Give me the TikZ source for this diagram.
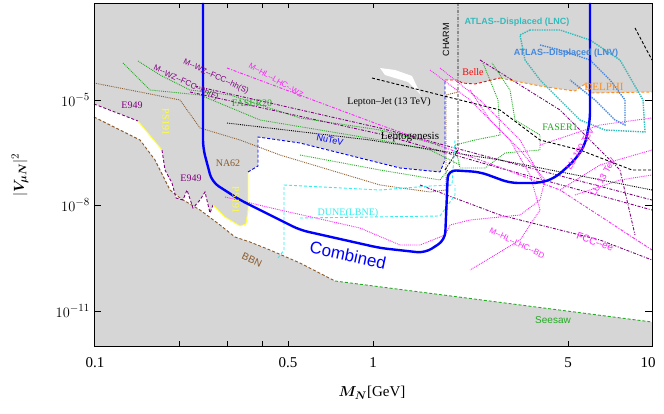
\documentclass[tikz,border=0pt]{standalone}
\usepackage{amsmath}
\usepackage{bm}
\usepackage{fontspec}
\setmainfont{Liberation Serif}
\newfontfamily\sansf{Liberation Sans}
\definecolor{bg}{HTML}{D6D6D6}
\definecolor{brn}{HTML}{8B5A2B}
\definecolor{pur}{HTML}{800080}
\definecolor{grn}{HTML}{22AA22}
\definecolor{mag}{HTML}{FF22FF}
\definecolor{org}{HTML}{FF8C1A}
\definecolor{teal}{HTML}{33BBBB}
\definecolor{lnv}{HTML}{4488DD}
\definecolor{yel}{HTML}{FFFF33}
\definecolor{cyn}{HTML}{33EEEE}
\tikzset{
 dt/.style={densely dotted,line width=0.9pt},
 dd/.style={dash pattern=on 3pt off 2pt,line width=0.9pt},
 ddt/.style={dash pattern=on 3pt off 1.5pt on 1pt off 1.5pt,line width=0.9pt},
 lab/.style={inner sep=0pt,font=\fontsize{10}{10}\selectfont},
 slab/.style={inner sep=0pt,font=\sansf\fontsize{9}{9}\selectfont},
 tick/.style={inner sep=0pt,font=\fontsize{15}{15}\selectfont}
}
\begin{document}
\begin{tikzpicture}[x=1pt,y=-1pt]
\useasboundingbox (0,0) rectangle (664,414);
\fill[bg] (94,3) rectangle (652,346);
% allowed region
\fill[white] (94,104) -- (138,121) -- (162,150) -- (165,170) -- (172,183) -- (176,198) -- (183,200) -- (187,190) -- (193,208) -- (200,200) -- (205,192) -- (210,213) -- (213,205) -- (225,217) -- (240,226) -- (246,224) -- (248,210) -- (248,172) -- (258,166) -- (258,137) -- (300,143) -- (360,158) -- (400,168) -- (440,172) -- (445,160) -- (445,80) -- (458,80) -- (462,83) -- (475,84) -- (500,78) -- (540,86) -- (560,89) -- (575,91) -- (585,84) -- (590,93) -- (652,92) -- (652,322) -- (335,281) -- (300,263) -- (270,250) -- (250,242) -- (235,237) -- (220,225) -- (200,210) -- (180,198) -- (170,190) -- (155,160) -- (140,140) -- (110,125) -- (94,117) -- cycle;
\fill[white] (380,68) -- (395,70) -- (412,76) -- (421,95) -- (408,82) -- (385,75) -- cycle;
% BBN and Seesaw
\draw[brn,dd] (94,117) -- (110,125) -- (140,140) -- (155,160) -- (170,190) -- (180,198) -- (200,210) -- (220,225) -- (235,237) -- (250,242) -- (270,250) -- (300,263) -- (335,281);
\draw[grn,dd] (335,281) -- (652,322);
% E949
\draw[pur,dd] (94,104) -- (138,121);
\draw[pur,dd] (162,150) -- (165,170) -- (172,183) -- (176,198) -- (183,200) -- (187,190) -- (193,208) -- (200,200) -- (205,192) -- (210,213) -- (213,205);
\draw[yel,line width=0.9pt] (138,121) -- (162,150);
\draw[yel,line width=0.9pt] (213,205) -- (225,217) -- (240,226) -- (246,224) -- (248,210) -- (248,172);
\draw[blue,dd] (248,172) -- (258,166) -- (258,137) -- (300,143) -- (360,158) -- (400,168) -- (440,172) -- (445,160) -- (445,80);
\draw[red,dd] (445,80) -- (458,80) -- (462,83) -- (475,84) -- (500,78);
\draw[org,dd] (500,78) -- (540,86) -- (560,89) -- (575,91) -- (585,84) -- (590,93) -- (652,92);
% NA62 upper brown
\draw[brn,dt] (94,83) -- (140,92) -- (180,100) -- (200,128) -- (240,140) -- (280,155) -- (380,185) -- (430,192) -- (446,190) -- (446,95) -- (458,92);
% FASER20
\draw[grn,dt] (123,63) -- (150,90) -- (200,95) -- (260,120) -- (380,140) -- (430,150) -- (460,165);
\draw[grn,dt] (138,61) -- (160,75) -- (190,90) -- (230,95) -- (300,118) -- (380,130) -- (440,145);
\draw[grn,dt] (300,155) -- (380,170) -- (440,180) -- (448,170);
% FASER1
\draw[grn,dt] (483,63) -- (498,100) -- (500,135) -- (475,140) -- (455,145) -- (460,168) -- (485,168) -- (505,153) -- (540,150) -- (540,135) -- (515,120) -- (510,90) -- (492,63);
% M-WZ-FCC-hh
\draw[pur,ddt] (195,86) -- (380,128) -- (500,160) -- (652,200);
\draw[pur,ddt] (190,92) -- (380,134) -- (500,168) -- (652,210);
\draw[pur,ddt] (420,185) -- (500,215) -- (600,240) -- (652,260);
\draw[pur,ddt] (480,60) -- (560,110) -- (620,170) -- (635,235);
% M-HL-LHC-WZ
\draw[mag,ddt] (227,68) -- (380,125) -- (480,160) -- (560,190) -- (652,250);
% M-HL-LHC-BD
\draw[mag,dt] (225,197) -- (280,210) -- (360,228) -- (400,245) -- (420,245) -- (445,235) -- (450,225) -- (470,220) -- (520,215) -- (540,200) -- (545,180) -- (520,150) -- (490,120) -- (470,90);
\draw[mag,dt] (430,70) -- (470,100) -- (510,140) -- (530,175) -- (540,210) -- (520,240) -- (470,270);
\draw[mag,dt] (440,68) -- (480,100) -- (520,140) -- (545,185);
% LU
\draw[mag,dt] (540,145) -- (600,125) -- (652,118);
\draw[mag,dt] (560,190) -- (600,165) -- (652,150);
\draw[mag,dt] (575,195) -- (620,180) -- (652,175);
% Leptogenesis, Lepton-Jet
\draw[black,dt] (227,123) -- (370,140) -- (500,160) -- (652,190);
\draw[black,dd] (372,78) -- (440,95) -- (500,110) -- (540,140) -- (580,150) -- (632,170) -- (652,170);
\draw[black,dd] (635,28) -- (652,60);
% CHARM
\draw[black,ddt] (458,3) -- (458,150) -- (445,170);
% DUNE
\draw[cyn,dd] (278,258) -- (284,250) -- (284,185) -- (380,190) -- (430,186) -- (452,185) -- (455,140);
\draw[cyn,dd] (300,218) -- (440,216) -- (455,195) -- (455,185);
% ATLAS
\draw[teal,densely dotted,line width=1.4pt] (530,30) -- (520,35) -- (525,60) -- (540,80) -- (560,100) -- (580,120) -- (605,130) -- (645,132) -- (643,100) -- (620,60) -- (590,40) -- (560,30) -- cycle;
\draw[lnv,densely dotted,line width=1.4pt] (540,45) -- (560,50) -- (590,60) -- (610,80) -- (625,100) -- (625,125) -- (615,120) -- (595,100) -- (570,80);
% Combined
\draw[blue,line width=2.4pt,rounded corners=8pt] (203,3) -- (203,148) -- (212,182) -- (240,200) -- (300,230) -- (380,248) -- (425,253) -- (445,240) -- (448,170) -- (480,172) -- (510,183) -- (540,183) -- (555,178) -- (575,160) -- (585,145) -- (590,120) -- (590,3);
% frame
\draw[line width=0.8pt] (94,3) rectangle (652,346);
\foreach \y in {100,205,311} {\draw (94,\y) -- (101,\y); \draw (652,\y) -- (645,\y);}
\foreach \x in {179,227,262,288,373,568} {\draw (\x,346) -- (\x,341); \draw (\x,3) -- (\x,8);}
% labels
\node[lab,pur] (le1) at (132,105) {E949};
\node[lab,pur] (le2) at (191,178) {E949};
\node[lab,yel,rotate=-90] (lps) at (166,122) {PS191};
\node[lab,yel,rotate=-90] (lps2) at (236,200) {PS191};
\node[lab,brn] (lna) at (228,163) {NA62};
\node[lab,grn] (lf20) at (252,103) {FASER20};
\node[slab,pur,rotate=-25,font=\sansf\fontsize{8}{8}\selectfont] (lwzs) at (216,77) {M--WZ--FCC--hh(S)};
\node[slab,pur,rotate=-25,font=\sansf\fontsize{8}{8}\selectfont] (lwzf) at (186,83) {M--WZ--FCC--hh(F)};
\node[slab,mag,rotate=-30,font=\sansf\fontsize{8}{8}\selectfont] (lhl) at (276,80) {M--HL--LHC--WZ};
\node[slab,blue,rotate=-12] (lnu) at (330,140) {NuTeV};
\node[lab] (llj) at (389,102) {Lepton--Jet (13 TeV)};
\node[lab,font=\fontsize{11}{11}\selectfont] (llg) at (410,137) {Leptogenesis};
\node[slab,rotate=90] (lch) at (446,40) {CHARM};
\node[lab,red] (lbe) at (473,72) {Belle};
\node[lab,org,font=\fontsize{11}{11}\selectfont] (lde) at (604,87) {DELPHI};
\node[slab,teal,font=\sansf\bfseries\fontsize{9}{9}\selectfont] (lat1) at (517,22) {ATLAS--Displaced (LNC)};
\node[slab,lnv,font=\sansf\bfseries\fontsize{9}{9}\selectfont] (lat2) at (566,53) {ATLAS--Displaced (LNV)};
\node[lab,grn] (lf1) at (560,127) {FASER1};
\node[slab,mag,rotate=60] (llu1) at (580,149) {LU 100 TeV};
\node[slab,mag,rotate=60] (llu2) at (603,177) {LU 13 TeV};
\node[lab,cyn] (ldu) at (348,213) {DUNE(LBNE)};
\node[slab,mag,rotate=-26,font=\sansf\fontsize{8}{8}\selectfont] (lbd) at (517,243) {M--HL--LHC--BD};
\node[slab,mag,rotate=-20,font=\sansf\fontsize{10}{10}\selectfont] (lfc) at (595,242) {FCC--ee};
\node[slab,grn,font=\sansf\fontsize{10}{10}\selectfont] (lse) at (553,320) {Seesaw};
\node[slab,brn,rotate=-25,font=\sansf\fontsize{10}{10}\selectfont] (lbbn) at (252,260) {BBN};
\node[slab,blue,rotate=-12,font=\sansf\fontsize{17}{17}\selectfont] (lco) at (348,255) {Combined};
% axes labels
\node[tick,anchor=east] (t5) at (90,100) {$10^{-5}$};
\node[tick,anchor=east] (t8) at (90,205) {$10^{-8}$};
\node[tick,anchor=east] (t11) at (90,311) {$10^{-11}$};
\node[tick] (x1) at (95,363) {0.1};
\node[tick] (x2) at (288,363) {0.5};
\node[tick] (x3) at (373,363) {1};
\node[tick] (x4) at (568,363) {5};
\node[tick] (x5) at (648,363) {10};
\node[tick] (xl) at (372,393) {$\bm{M_N}$[GeV]};
\node[tick,rotate=90] (yl) at (20,175) {$|\bm{V_{\mu N}}|^2$};
\end{tikzpicture}
\end{document}
